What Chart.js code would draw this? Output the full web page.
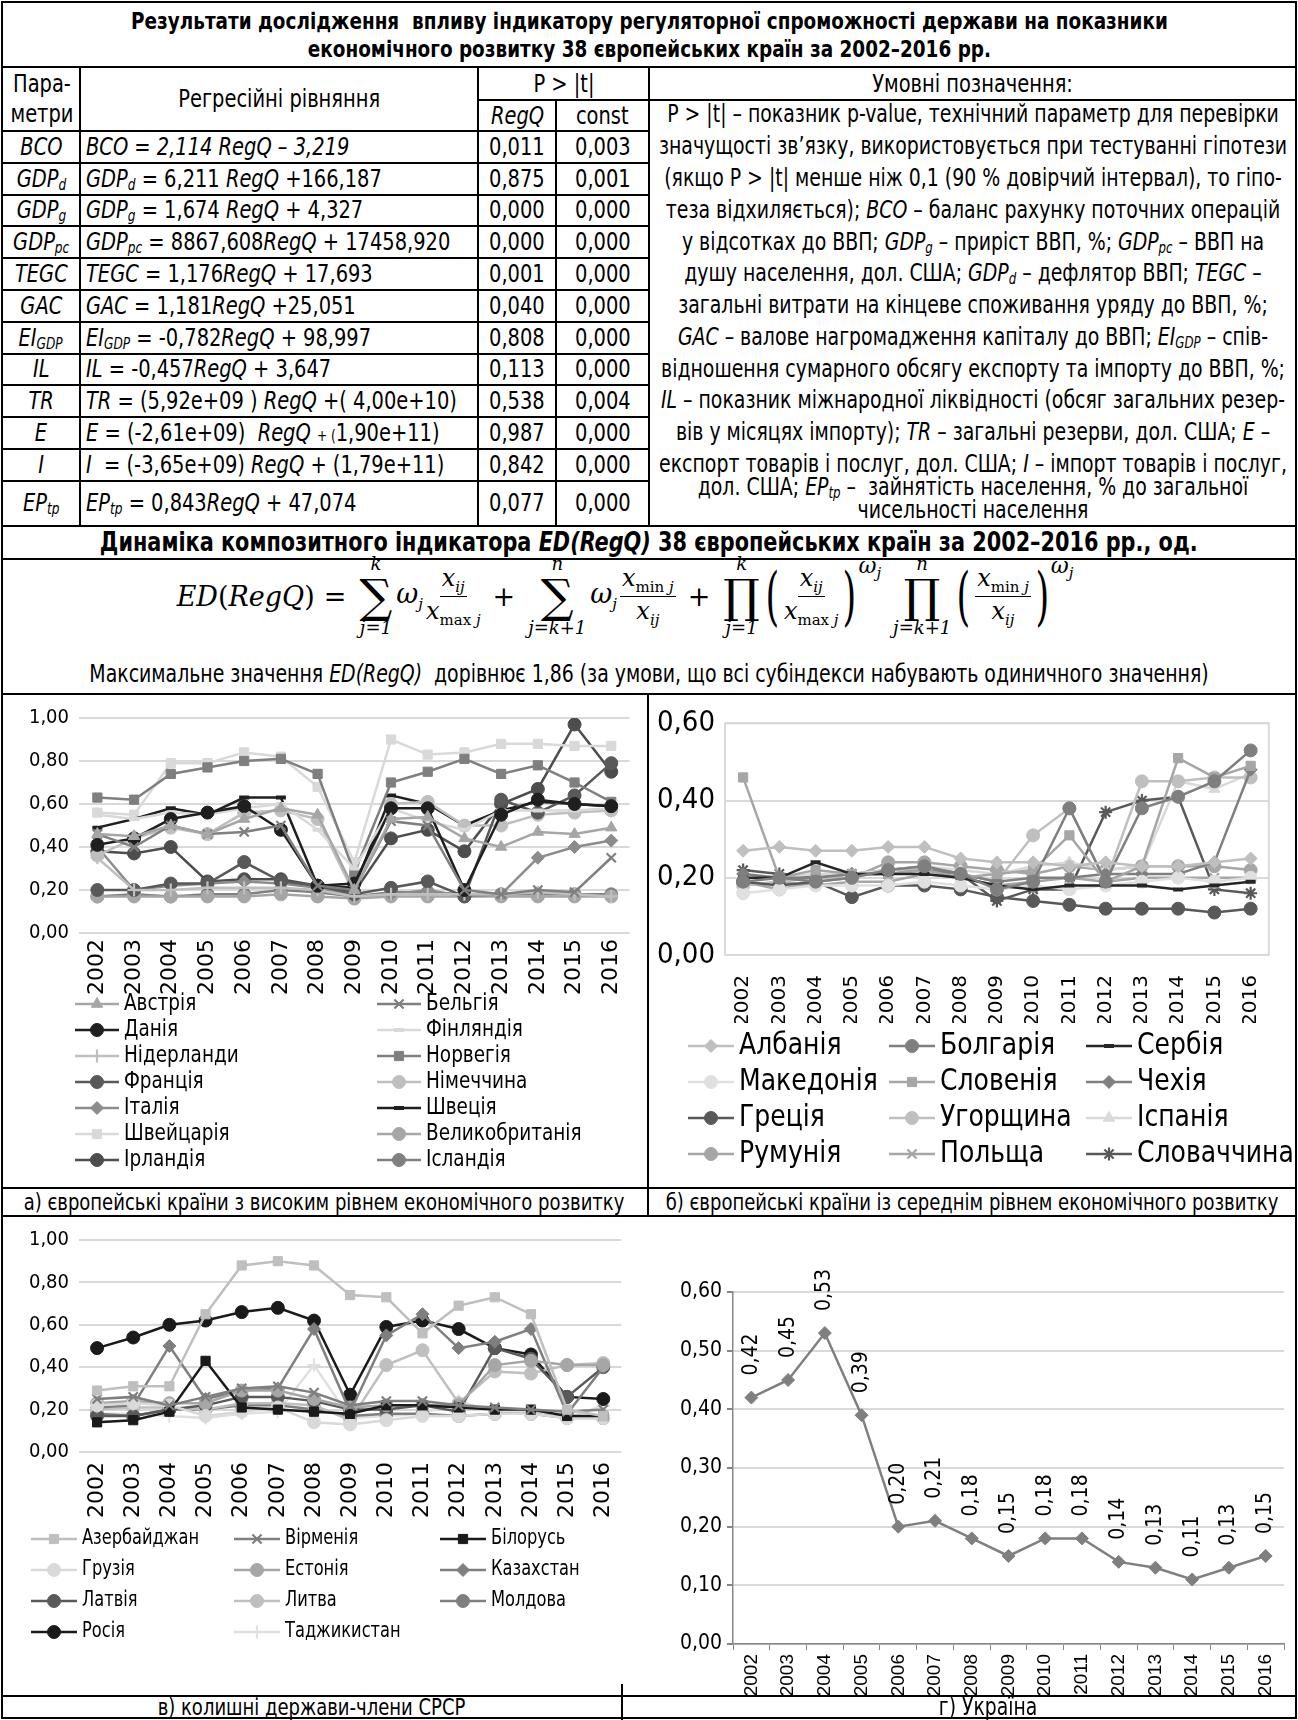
<!DOCTYPE html>
<html>
<head>
<meta charset="utf-8">
<script src="https://cdn.jsdelivr.net/npm/chart.js@4.4.1/dist/chart.umd.min.js"></script>
<style>
  body { margin: 0; background: #fff; }
  #page { position: relative; width: 1298px; height: 1720px; overflow: hidden; color: #000;
          font-family: "DejaVu Sans Condensed", "Liberation Sans", sans-serif; }
  table.t { position: absolute; left: 1px; top: 1px; width: 1296px; border-collapse: collapse;
            table-layout: fixed; font-size: 24px; }
  table.t td { border: 2px solid #000; padding: 0 4px; white-space: nowrap; overflow: hidden;
               line-height: 1; text-align: center; }
  table.t td.eq { text-align: left; padding-left: 5px; }
  table.t td.p { font-style: italic; padding: 0 1px; }
  table.t td.ttl { font-weight: bold; }
  table.t sub { font-size: 15px; vertical-align: -3px; line-height: 0; }
  .s { display: inline-block; transform: scaleX(0.9); transform-origin: center; text-align: inherit; }
  td.eq .s { transform-origin: left center; }
  td.ttl .s { transform: scaleX(0.89); }
  #legendTxt div { position: absolute; left: -58px; width: 760px; height: 26px; line-height: 26px;
                   text-align: center; white-space: nowrap; font-size: 24px; transform: scaleX(0.875); }
  #legendTxt sub { font-size: 15px; vertical-align: -3px; line-height: 0; }
  .abs { position: absolute; }
  .hl { position: absolute; left: 1px; width: 1296px; height: 2px; background: #000; }
  .vl { position: absolute; width: 2px; background: #000; }
  .cap { position: absolute; height: 26px; line-height: 26px; text-align: center; font-size: 23px;
         white-space: nowrap; transform: scaleX(0.87); }
  #formula { position: absolute; left: 0; top: 541px; width: 1250px; height: 110px; display: flex;
             justify-content: center; align-items: center; font-family: "DejaVu Serif", serif; font-size: 27px; }
  #formula .mi { font-style: italic; }
  #formula .mo { margin: 0 9px; }
  #formula .op { display: inline-flex; flex-direction: column; align-items: center; margin: 0 4px; line-height: 1; }
  #formula .op .sym { font-size: 46px; line-height: 1; }
  #formula .op .lim { font-size: 18px; font-style: italic; }
  #formula .fr { display: inline-flex; flex-direction: column; align-items: center; font-style: italic;
                 font-size: 24px; margin: 0 3px; line-height: 1.2; }
  #formula .fr .nu { border-bottom: 1.5px solid #000; padding: 0 2px; }
  #formula sub { font-size: 15px; }
  #formula .rm { font-style: normal; }
  #formula .pa { font-size: 64px; font-weight: 100; display: inline-block; transform: scaleX(0.55); line-height: 1; margin: 0 -4px; }
  #formula .ex { align-self: flex-start; margin-top: 12px; font-style: italic; font-size: 22px; }
  #maxLine { position: absolute; left: 1px; width: 1296px; top: 660px; height: 28px; line-height: 28px;
             text-align: center; font-size: 24px; white-space: nowrap; transform: scaleX(0.875); }
  .box { position: absolute; }
</style>
</head>
<body>
<div id="page">

<table class="t">
  <colgroup><col style="width:78px"><col style="width:398px"><col style="width:78px"><col style="width:93px"><col></colgroup>
  <tr style="height:65px"><td class="ttl" colspan="5" style="font-size:23px;line-height:28px;vertical-align:bottom;padding-bottom:3px">Результати дослідження &nbsp;впливу індикатору регуляторної спроможності держави на показники<br>економічного розвитку 38 європейських країн за 2002–2016 рр.</td></tr>
  <tr style="height:33px">
    <td rowspan="2" style="line-height:30px">Пара-<br>метри</td>
    <td rowspan="2">Регресійні рівняння</td>
    <td colspan="2">P &gt; |t|</td>
    <td>Умовні позначення:</td>
  </tr>
  <tr style="height:31px"><td><i>RegQ</i></td><td>const</td><td rowspan="13"></td></tr>
  <tr style="height:31.8px"><td class="p">BCO</td><td class="eq"><i>BCO = 2,114 RegQ – 3,219</i></td><td>0,011</td><td>0,003</td></tr>
  <tr style="height:31.8px"><td class="p">GDP<sub>d</sub></td><td class="eq"><i>GDP<sub>d</sub></i> = 6,211 <i>RegQ</i> +166,187</td><td>0,875</td><td>0,001</td></tr>
  <tr style="height:31.8px"><td class="p">GDP<sub>g</sub></td><td class="eq"><i>GDP<sub>g</sub></i> = 1,674 <i>RegQ</i> + 4,327</td><td>0,000</td><td>0,000</td></tr>
  <tr style="height:31.8px"><td class="p">GDP<sub>pc</sub></td><td class="eq"><i>GDP<sub>pc</sub></i> = 8867,608<i>RegQ</i> + 17458,920</td><td>0,000</td><td>0,000</td></tr>
  <tr style="height:31.8px"><td class="p">TEGC</td><td class="eq"><i>TEGC</i> = 1,176<i>RegQ</i> + 17,693</td><td>0,001</td><td>0,000</td></tr>
  <tr style="height:31.8px"><td class="p">GAC</td><td class="eq"><i>GAC</i> = 1,181<i>RegQ</i> +25,051</td><td>0,040</td><td>0,000</td></tr>
  <tr style="height:31.8px"><td class="p">EI<sub>GDP</sub></td><td class="eq"><i>EI<sub>GDP</sub></i> = -0,782<i>RegQ</i> + 98,997</td><td>0,808</td><td>0,000</td></tr>
  <tr style="height:31.8px"><td class="p">IL</td><td class="eq"><i>IL</i> = -0,457<i>RegQ</i> + 3,647</td><td>0,113</td><td>0,000</td></tr>
  <tr style="height:31.8px"><td class="p">TR</td><td class="eq"><i>TR</i> = (5,92e+09 ) <i>RegQ</i> +( 4,00e+10)</td><td>0,538</td><td>0,004</td></tr>
  <tr style="height:31.8px"><td class="p">E</td><td class="eq"><i>E</i> = (-2,61e+09) &nbsp;<i>RegQ</i> <span style="font-size:15px">+ (</span>1,90e+11)</td><td>0,987</td><td>0,000</td></tr>
  <tr style="height:31.8px"><td class="p">I</td><td class="eq"><i>I</i> &nbsp;= (-3,65e+09) <i>RegQ</i> + (1,79e+11)</td><td>0,842</td><td>0,000</td></tr>
  <tr style="height:45px"><td class="p">EP<sub>tp</sub></td><td class="eq"><i>EP<sub>tp</sub></i> = 0,843<i>RegQ</i> + 47,074</td><td>0,077</td><td>0,000</td></tr>
  <tr style="height:33px"><td class="ttl" colspan="5" style="font-size:26px">Динаміка композитного індикатора <i>ED(RegQ)</i> 38 європейських країн за 2002–2016 рр., од.</td></tr>
  <tr style="height:135px"><td colspan="5"></td></tr>
</table>

<div id="legendTxt" class="abs" style="left:651px;top:0;width:644px;height:530px">
  <div style="top:101px">P &gt; |t| – показник p-value, технічний параметр для перевірки</div>
  <div style="top:133px">значущості зв’язку, використовується при тестуванні гіпотези</div>
  <div style="top:165px">(якщо P &gt; |t| менше ніж 0,1 (90 % довірчий інтервал), то гіпо-</div>
  <div style="top:197px">теза відхиляється); <i>BCO</i> – баланс рахунку поточних операцій</div>
  <div style="top:229px">у відсотках до ВВП; <i>GDP<sub>g</sub></i> – приріст ВВП, %; <i>GDP<sub>pc</sub></i> – ВВП на</div>
  <div style="top:260px">душу населення, дол. США; <i>GDP<sub>d</sub></i> – дефлятор ВВП; <i>TEGC</i> –</div>
  <div style="top:292px">загальні витрати на кінцеве споживання уряду до ВВП, %;</div>
  <div style="top:324px"><i>GAC</i> – валове нагромадження капіталу до ВВП; <i>EI<sub>GDP</sub></i> – спів-</div>
  <div style="top:356px">відношення сумарного обсягу експорту та імпорту до ВВП, %;</div>
  <div style="top:387px"><i>IL</i> – показник міжнародної ліквідності (обсяг загальних резер-</div>
  <div style="top:419px">вів у місяцях імпорту); <i>TR</i> – загальні резерви, дол. США; <i>E</i> –</div>
  <div style="top:451px">експорт товарів і послуг, дол. США; <i>I</i> – імпорт товарів і послуг,</div>
  <div style="top:474px">дол. США; <i>EP<sub>tp</sub></i> – &nbsp;зайнятість населення, % до загальної</div>
  <div style="top:497px">чисельності населення</div>
</div>

<div id="formula">
  <span class="mi">ED</span>(<span class="mi">RegQ</span>)<span class="mo">=</span>
  <span class="op"><span class="lim">k</span><span class="sym">∑</span><span class="lim">j=1</span></span>
  <span class="mi">ω<sub>j</sub></span>
  <span class="fr"><span class="nu">x<sub>ij</sub></span><span>x<sub><span class="rm">max</span> j</sub></span></span>
  <span class="mo">+</span>
  <span class="op"><span class="lim">n</span><span class="sym">∑</span><span class="lim">j=k+1</span></span>
  <span class="mi">ω<sub>j</sub></span>
  <span class="fr"><span class="nu">x<sub><span class="rm">min</span> j</sub></span><span>x<sub>ij</sub></span></span>
  <span class="mo">+</span>
  <span class="op"><span class="lim">k</span><span class="sym">∏</span><span class="lim">j=1</span></span>
  <span class="pa">(</span><span class="fr"><span class="nu">x<sub>ij</sub></span><span>x<sub><span class="rm">max</span> j</sub></span></span><span class="pa">)</span><span class="ex">ω<sub>j</sub></span>
  <span class="op" style="margin-left:12px"><span class="lim">n</span><span class="sym">∏</span><span class="lim">j=k+1</span></span>
  <span class="pa">(</span><span class="fr"><span class="nu">x<sub><span class="rm">min</span> j</sub></span><span>x<sub>ij</sub></span></span><span class="pa">)</span><span class="ex">ω<sub>j</sub></span>
</div>
<div id="maxLine">Максимальне значення <i>ED(RegQ)</i> &nbsp;дорівнює 1,86 (за умови, що всі субіндекси набувають одиничного значення)</div>

<!-- лінії рамки графіків -->
<div class="vl" style="left:1px;top:693px;height:1026px"></div>
<div class="vl" style="left:1295px;top:693px;height:1026px"></div>
<div class="hl" style="top:1717px"></div>
<div class="vl" style="left:647px;top:693px;height:523px"></div>
<div class="hl" style="top:1187px"></div>
<div class="hl" style="top:1215px"></div>
<div class="hl" style="top:1695px"></div>
<div class="vl" style="left:621px;top:1684px;height:36px"></div>

<div class="box" style="left:4px;top:696px;width:640px;height:490px"><canvas id="cHigh"></canvas></div>
<div class="box" style="left:650px;top:696px;width:645px;height:490px"><canvas id="cMid"></canvas></div>
<div class="box" style="left:4px;top:1218px;width:636px;height:474px"><canvas id="cUssr"></canvas></div>
<div class="box" style="left:660px;top:1218px;width:635px;height:477px"><canvas id="cUkr"></canvas></div>

<div class="cap" style="left:-56px;width:760px;top:1189px">а) європейські країни з високим рівнем економічного розвитку</div>
<div class="cap" style="left:592px;width:760px;top:1189px">б) європейські країни із середнім рівнем економічного розвитку</div>
<div class="cap" style="left:2px;width:619px;top:1696px;height:22px;line-height:22px">в) колишні держави-члени СРСР</div>
<div class="cap" style="left:680px;width:616px;top:1696px;height:22px;line-height:22px;font-size:24px">г) Україна</div>

</div>

<script>
// вузький вигляд тексту в клітинках таблиці
document.querySelectorAll('table.t td').forEach(td => {
  if (td.innerHTML.trim()) td.innerHTML = '<span class="s">' + td.innerHTML + '</span>';
});

// роки
const years = ['2002', '2003', '2004', '2005', '2006', '2007', '2008', '2009', '2010', '2011', '2012', '2013', '2014', '2015', '2016'];

// а) країни з високим рівнем розвитку
const hiAustria = [0.46, 0.45, 0.50, 0.46, 0.53, 0.58, 0.55, 0.20, 0.53, 0.54, 0.44, 0.40, 0.47, 0.46, 0.49];
const hiBelgium = [0.46, 0.40, 0.50, 0.46, 0.47, 0.50, 0.22, 0.20, 0.52, 0.50, 0.20, 0.18, 0.20, 0.19, 0.35];
const hiDenmark = [0.41, 0.44, 0.53, 0.56, 0.59, 0.48, 0.22, 0.23, 0.58, 0.58, 0.20, 0.55, 0.62, 0.60, 0.59];
const hiFinland = [0.55, 0.53, 0.56, 0.55, 0.58, 0.60, 0.48, 0.30, 0.58, 0.52, 0.48, 0.57, 0.57, 0.57, 0.58];
const hiNetherl = [0.35, 0.20, 0.20, 0.21, 0.21, 0.21, 0.20, 0.17, 0.18, 0.18, 0.18, 0.18, 0.19, 0.18, 0.17];
const hiNorway = [0.63, 0.62, 0.74, 0.77, 0.80, 0.81, 0.74, 0.28, 0.70, 0.75, 0.81, 0.74, 0.78, 0.70, 0.61];
const hiFrance = [0.20, 0.20, 0.23, 0.23, 0.33, 0.24, 0.22, 0.18, 0.21, 0.24, 0.17, 0.62, 0.56, 0.64, 0.79];
const hiGermany = [0.36, 0.44, 0.49, 0.46, 0.56, 0.57, 0.53, 0.18, 0.60, 0.61, 0.50, 0.50, 0.55, 0.56, 0.57];
const hiItaly = [0.40, 0.20, 0.22, 0.23, 0.24, 0.23, 0.21, 0.17, 0.18, 0.20, 0.17, 0.18, 0.35, 0.40, 0.43];
const hiSweden = [0.49, 0.53, 0.58, 0.55, 0.63, 0.63, 0.22, 0.21, 0.64, 0.60, 0.50, 0.57, 0.61, 0.60, 0.59];
const hiSwiss = [0.56, 0.55, 0.79, 0.79, 0.84, 0.82, 0.68, 0.33, 0.90, 0.83, 0.84, 0.88, 0.88, 0.87, 0.87];
const hiUK = [0.17, 0.17, 0.17, 0.17, 0.17, 0.18, 0.17, 0.16, 0.17, 0.17, 0.17, 0.17, 0.17, 0.17, 0.17];
const hiIreland = [0.38, 0.37, 0.40, 0.24, 0.25, 0.25, 0.22, 0.19, 0.44, 0.48, 0.38, 0.60, 0.67, 0.97, 0.75];
const hiIceland = [0.17, 0.18, 0.17, 0.18, 0.18, 0.20, 0.19, 0.17, 0.19, 0.19, 0.18, 0.18, 0.18, 0.18, 0.18];
const hiNames = ['Австрія', 'Бельгія', 'Данія', 'Фінляндія', 'Нідерланди', 'Норвегія', 'Франція', 'Німеччина',
                 'Італія', 'Швеція', 'Швейцарія', 'Великобританія', 'Ірландія', 'Ісландія'];
const hiSeries = [hiAustria, hiBelgium, hiDenmark, hiFinland, hiNetherl, hiNorway, hiFrance, hiGermany,
                  hiItaly, hiSweden, hiSwiss, hiUK, hiIreland, hiIceland];

// б) країни із середнім рівнем розвитку
const midAlbania = [0.27, 0.28, 0.27, 0.27, 0.28, 0.28, 0.25, 0.24, 0.24, 0.23, 0.24, 0.23, 0.23, 0.24, 0.25];
const midBulgaria = [0.19, 0.20, 0.19, 0.20, 0.22, 0.23, 0.21, 0.17, 0.19, 0.38, 0.19, 0.38, 0.41, 0.45, 0.53];
const midSerbia = [0.20, 0.20, 0.24, 0.21, 0.21, 0.21, 0.20, 0.18, 0.17, 0.18, 0.18, 0.18, 0.17, 0.18, 0.19];
const midMacedonia = [0.16, 0.17, 0.18, 0.18, 0.18, 0.19, 0.18, 0.17, 0.18, 0.17, 0.18, 0.19, 0.20, 0.19, 0.20];
const midSlovenia = [0.46, 0.20, 0.22, 0.21, 0.21, 0.22, 0.20, 0.21, 0.22, 0.31, 0.19, 0.23, 0.51, 0.46, 0.49];
const midCzech = [0.21, 0.20, 0.20, 0.21, 0.21, 0.22, 0.21, 0.19, 0.20, 0.20, 0.21, 0.21, 0.21, 0.24, 0.48];
const midGreece = [0.19, 0.18, 0.19, 0.15, 0.18, 0.18, 0.17, 0.15, 0.14, 0.13, 0.12, 0.12, 0.12, 0.11, 0.12];
const midHungary = [0.18, 0.19, 0.20, 0.20, 0.22, 0.22, 0.21, 0.19, 0.31, 0.38, 0.19, 0.45, 0.45, 0.46, 0.46];
const midSpain = [0.20, 0.20, 0.21, 0.21, 0.22, 0.23, 0.22, 0.21, 0.23, 0.24, 0.22, 0.23, 0.45, 0.43, 0.47];
const midRomania = [0.19, 0.17, 0.19, 0.20, 0.24, 0.24, 0.23, 0.22, 0.21, 0.23, 0.22, 0.23, 0.23, 0.23, 0.22];
const midPoland = [0.18, 0.19, 0.18, 0.19, 0.19, 0.21, 0.20, 0.18, 0.19, 0.20, 0.19, 0.20, 0.20, 0.20, 0.20];
const midSlovakia = [0.22, 0.21, 0.20, 0.21, 0.22, 0.23, 0.21, 0.14, 0.17, 0.17, 0.37, 0.40, 0.41, 0.17, 0.16];
const midNames = ['Албанія', 'Болгарія', 'Сербія', 'Македонія', 'Словенія', 'Чехія',
                  'Греція', 'Угорщина', 'Іспанія', 'Румунія', 'Польща', 'Словаччина'];
const midSeries = [midAlbania, midBulgaria, midSerbia, midMacedonia, midSlovenia, midCzech,
                   midGreece, midHungary, midSpain, midRomania, midPoland, midSlovakia];

// в) колишні держави-члени СРСР
const exAzerbaijan = [0.29, 0.31, 0.31, 0.65, 0.88, 0.90, 0.88, 0.74, 0.73, 0.56, 0.69, 0.73, 0.65, 0.20, 0.17];
const exArmenia = [0.25, 0.26, 0.22, 0.26, 0.30, 0.31, 0.28, 0.22, 0.24, 0.24, 0.22, 0.21, 0.20, 0.19, 0.20];
const exBelarus = [0.14, 0.15, 0.19, 0.43, 0.21, 0.20, 0.19, 0.18, 0.22, 0.22, 0.21, 0.20, 0.20, 0.17, 0.17];
const exGeorgia = [0.22, 0.23, 0.22, 0.17, 0.19, 0.21, 0.14, 0.13, 0.15, 0.17, 0.17, 0.18, 0.18, 0.16, 0.16];
const exEstonia = [0.23, 0.24, 0.23, 0.23, 0.29, 0.29, 0.25, 0.21, 0.22, 0.22, 0.22, 0.41, 0.43, 0.41, 0.41];
const exKazakh = [0.21, 0.22, 0.50, 0.25, 0.29, 0.30, 0.58, 0.19, 0.55, 0.65, 0.49, 0.52, 0.58, 0.18, 0.40];
const exLatvia = [0.17, 0.17, 0.20, 0.22, 0.26, 0.26, 0.24, 0.20, 0.20, 0.22, 0.19, 0.49, 0.44, 0.26, 0.40];
const exLithuania = [0.20, 0.21, 0.21, 0.20, 0.23, 0.23, 0.22, 0.15, 0.41, 0.48, 0.23, 0.38, 0.37, 0.41, 0.42];
const exMoldova = [0.18, 0.17, 0.20, 0.20, 0.22, 0.22, 0.20, 0.17, 0.18, 0.18, 0.17, 0.18, 0.18, 0.16, 0.16];
const exRussia = [0.49, 0.54, 0.60, 0.62, 0.66, 0.68, 0.62, 0.27, 0.59, 0.62, 0.58, 0.49, 0.46, 0.26, 0.25];
const exTajik = [0.18, 0.18, 0.17, 0.16, 0.18, 0.19, 0.41, 0.16, 0.17, 0.18, 0.24, 0.19, 0.19, 0.16, 0.22];
const exNames = ['Азербайджан', 'Вірменія', 'Білорусь', 'Грузія', 'Естонія', 'Казахстан',
                 'Латвія', 'Литва', 'Молдова', 'Росія', 'Таджикистан'];
const exSeries = [exAzerbaijan, exArmenia, exBelarus, exGeorgia, exEstonia, exKazakh,
                  exLatvia, exLithuania, exMoldova, exRussia, exTajik];

// г) Україна
const ukraine = [0.42, 0.45, 0.53, 0.39, 0.20, 0.21, 0.18, 0.15, 0.18, 0.18, 0.14, 0.13, 0.11, 0.13, 0.15];

// стилі серій (колір, маркер)
const hiStyle = [['#a6a6a6', 'triangle'], ['#7f7f7f', 'crossRot'], ['#1f1f1f', 'circle'], ['#d9d9d9', 'line'],
                 ['#bfbfbf', 'cross'], ['#7f7f7f', 'rect'], ['#595959', 'circle'], ['#bfbfbf', 'circle'],
                 ['#8c8c8c', 'rectRot'], ['#1f1f1f', 'line'], ['#d9d9d9', 'rect'], ['#a6a6a6', 'circle'],
                 ['#4d4d4d', 'circle'], ['#808080', 'circle']];
const midStyle = [['#bfbfbf', 'rectRot'], ['#7f7f7f', 'circle'], ['#262626', 'line'], ['#e0e0e0', 'circle'],
                  ['#a6a6a6', 'rect'], ['#7f7f7f', 'rectRot'], ['#595959', 'circle'], ['#bfbfbf', 'circle'],
                  ['#d9d9d9', 'triangle'], ['#a6a6a6', 'circle'], ['#a6a6a6', 'crossRot'], ['#595959', 'star']];
const exStyle = [['#bfbfbf', 'rect'], ['#7f7f7f', 'crossRot'], ['#1a1a1a', 'rect'], ['#d9d9d9', 'circle'],
                 ['#a6a6a6', 'circle'], ['#7f7f7f', 'rectRot'], ['#595959', 'circle'], ['#bfbfbf', 'circle'],
                 ['#7f7f7f', 'circle'], ['#1a1a1a', 'circle'], ['#e0e0e0', 'cross']];

const NARROW = '"DejaVu Sans Condensed", "Liberation Sans", sans-serif';
const YEARS_FONT = '"DejaVu Sans", sans-serif';
const WIDE = '"Liberation Sans", Arial, sans-serif';

function fmt(v) { return v.toFixed(2).replace('.', ','); }

function buildSets(names, series, styles) {
  return names.map((n, i) => {
    const c = styles[i][0], ps = styles[i][1];
    const open = ['cross', 'crossRot', 'star'].includes(ps);
    return {
      label: n, data: series[i],
      borderColor: c, backgroundColor: c, pointBackgroundColor: c, pointBorderColor: c,
      pointStyle: ps,
      pointRadius: ps === 'line' ? 5 : 6.5, pointHoverRadius: 6.5,
      pointBorderWidth: ps === 'line' ? 4 : (open ? 2.2 : 1),
      borderWidth: 2.5, tension: 0
    };
  });
}

// легенда сіткою під графіком
const gridLegend = {
  id: 'gridLegend',
  afterDraw(chart, args, o) {
    const ctx = chart.ctx;
    ctx.save();
    ctx.font = o.size + 'px ' + NARROW;
    ctx.textBaseline = 'middle';
    chart.data.datasets.forEach((d, i) => {
      const x = o.cols[i % o.cols.length];
      const y = o.top + Math.floor(i / o.cols.length) * o.pitch;
      ctx.strokeStyle = d.borderColor;
      ctx.lineWidth = d.borderWidth;
      ctx.beginPath(); ctx.moveTo(x, y); ctx.lineTo(x + o.len, y); ctx.stroke();
      ctx.fillStyle = d.pointBackgroundColor;
      ctx.strokeStyle = d.pointBorderColor;
      ctx.lineWidth = d.pointBorderWidth;
      Chart.helpers.drawPoint(ctx, { pointStyle: d.pointStyle, radius: d.pointRadius,
        borderWidth: d.pointBorderWidth, rotation: 0 }, x + o.len / 2, y);
      ctx.fillStyle = '#000';
      ctx.save();
      ctx.translate(x + o.len + 5, y);
      ctx.scale(o.sx, 1);
      ctx.fillText(d.label, 0, 0);
      ctx.restore();
    });
    ctx.restore();
  }
};

// рамка області побудови (б)
const plotBox = {
  id: 'plotBox',
  beforeDatasetsDraw(chart) {
    const a = chart.chartArea, ctx = chart.ctx;
    ctx.save();
    ctx.strokeStyle = '#d9d9d9'; ctx.lineWidth = 2;
    ctx.strokeRect(a.left, a.top, a.right - a.left, a.bottom - a.top);
    ctx.restore();
  }
};

// підписи значень (г)
const valueLabels = {
  id: 'valueLabels',
  afterDatasetsDraw(chart, args, o) {
    const ctx = chart.ctx;
    const meta = chart.getDatasetMeta(0);
    ctx.save();
    ctx.font = o.size + 'px ' + NARROW;
    ctx.fillStyle = '#000';
    ctx.textAlign = 'left';
    ctx.textBaseline = 'middle';
    meta.data.forEach((pt, i) => {
      ctx.save();
      ctx.translate(pt.x, pt.y - o.offset);
      ctx.rotate(-Math.PI / 2);
      ctx.fillText(fmt(chart.data.datasets[0].data[i]), 0, 0);
      ctx.restore();
    });
    ctx.restore();
  }
};

function multiChart(id, sets, c) {
  return new Chart(document.getElementById(id), {
    type: 'line',
    data: { labels: years, datasets: sets },
    plugins: c.box ? [gridLegend, plotBox] : [gridLegend],
    options: {
      responsive: true, maintainAspectRatio: false, animation: false,
      layout: { padding: { top: c.padTop, right: c.padRight, bottom: c.padBottom, left: 0 } },
      plugins: { legend: { display: false }, tooltip: { enabled: false }, gridLegend: c.legend },
      scales: {
        x: {
          offset: true,
          grid: { display: false, drawTicks: false },
          border: { display: false },
          ticks: { color: '#000', autoSkip: false, minRotation: 90, maxRotation: 90, padding: c.xPad,
                   font: { family: YEARS_FONT, size: c.xSize } },
          afterFit(s) { s.height = c.xH; }
        },
        y: {
          min: 0, max: c.max,
          grid: { color: '#d9d9d9', lineWidth: 2, drawTicks: false },
          border: { display: false },
          ticks: { stepSize: 0.2, color: '#000', padding: 10, callback: fmt,
                   font: { family: NARROW, size: c.ySize } },
          afterFit(s) { s.width = c.yW; }
        }
      }
    }
  });
}

multiChart('cHigh', buildSets(hiNames, hiSeries, hiStyle), {
  max: 1, padTop: 12, padRight: 6, padBottom: 189, xPad: 6, xH: 64, xSize: 22, ySize: 20, yW: 75,
  legend: { cols: [71, 373], top: 308, pitch: 26, len: 44, size: 23.5, sx: 0.872 }
});

multiChart('cMid', buildSets(midNames, midSeries, midStyle), {
  max: 0.6, padTop: 7, padRight: 3, padBottom: 163, xPad: 20, xH: 68, xSize: 20, ySize: 29, yW: 75, box: true,
  legend: { cols: [38, 239, 436], top: 350, pitch: 36, len: 46, size: 31, sx: 0.9 }
});

multiChart('cUssr', buildSets(exNames, exSeries, exStyle), {
  max: 1, padTop: 11, padRight: 10, padBottom: 170, xPad: 10, xH: 70, xSize: 22, ySize: 20, yW: 75,
  legend: { cols: [27, 230, 436], top: 321, pitch: 31, len: 46, size: 21, sx: 0.86 }
});

new Chart(document.getElementById('cUkr'), {
  type: 'line',
  data: {
    labels: years,
    datasets: [{
      label: 'Україна', data: ukraine,
      borderColor: '#7f7f7f', backgroundColor: '#7f7f7f', pointBackgroundColor: '#7f7f7f',
      pointBorderColor: '#7f7f7f', pointStyle: 'rectRot', pointRadius: 6.5, pointBorderWidth: 1,
      borderWidth: 2.5, tension: 0
    }]
  },
  plugins: [valueLabels],
  options: {
    responsive: true, maintainAspectRatio: false, animation: false,
    layout: { padding: { top: 74, right: 11, bottom: 0, left: 0 } },
    plugins: { legend: { display: false }, tooltip: { enabled: false }, valueLabels: { size: 21, offset: 22 } },
    scales: {
      x: {
        offset: true,
        grid: { drawOnChartArea: false, drawTicks: true, tickLength: 6, tickColor: '#868686', offset: true },
        border: { display: true, color: '#868686', width: 1.5 },
        ticks: { color: '#000', autoSkip: false, minRotation: 90, maxRotation: 90, padding: 4,
                 font: { family: WIDE, size: 19 } },
        afterFit(s) { s.height = 51; }
      },
      y: {
        min: 0, max: 0.6,
        grid: { color: '#d9d9d9', lineWidth: 2, tickLength: 6, tickColor: '#868686' },
        border: { display: true, color: '#868686', width: 1.5 },
        ticks: { stepSize: 0.1, color: '#000', padding: 5, callback: fmt,
                 font: { family: NARROW, size: 21 } },
        afterFit(s) { s.width = 73; }
      }
    }
  }
});
</script>
</body>
</html>
